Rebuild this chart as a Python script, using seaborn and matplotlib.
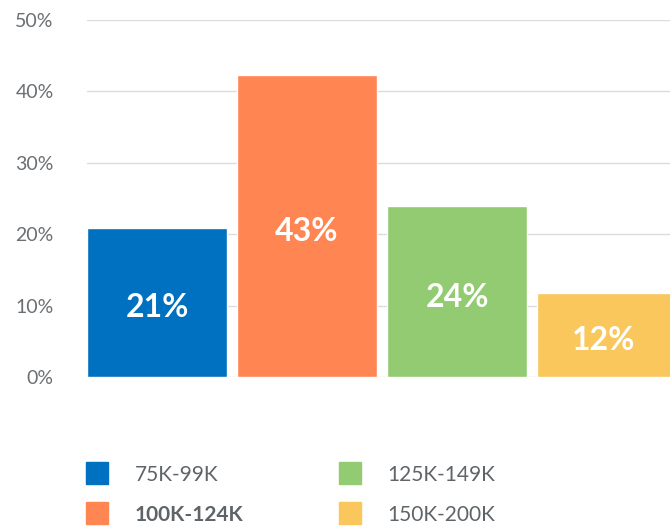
import numpy as np
import pandas as pd
import matplotlib
matplotlib.use("Agg")
import matplotlib.pyplot as plt
import seaborn as sns
from matplotlib.lines import Line2D

# datos
categorias = ["75K-99K", "100K-124K", "125K-149K", "150K-200K"]
valores = [20.9, 42.3, 23.9, 11.8]
etiquetas = ["21%", "43%", "24%", "12%"]
colores = ["#0070c0", "#ff8552", "#92cb72", "#f9c75b"]
yticks = [0, 10, 20, 30, 40, 50]

sns.set_style("white")
plt.rcParams['font.family'] = ['Lato', 'DejaVu Sans']

df = pd.DataFrame({'rango': categorias, 'pct': valores})

fig = plt.figure(figsize=(6.7, 5.29), dpi=100)
ax = fig.add_axes([87/670, (529-377)/529, (670-87)/670, (377-20)/529])

sns.barplot(data=df, x='rango', y='pct', hue='rango', palette=colores,
            width=0.933, legend=False, ax=ax, saturation=1, zorder=3)

for cont, lab in zip(ax.containers, etiquetas):
    ax.bar_label(cont, labels=[lab], label_type='center', color='white',
                 fontsize=23, fontweight='bold', padding=-4)

ax.set_ylim(0, 50)
ax.set_xlim(-0.467, 3.42)
ax.set_yticks(yticks)
ax.set_yticklabels([f"{t}%" for t in yticks], color='#6b6f73', fontsize=14)
ax.tick_params(axis='y', length=0, pad=24)
ax.set_xticks([])
ax.set_xlabel('')
ax.set_ylabel('')
ax.grid(axis='y', color='#dcdcdc', linewidth=1, zorder=0)
ax.set_axisbelow(True)
sns.despine(ax=ax, left=True, bottom=True)

handles = [Line2D([0], [0], marker='s', linestyle='', markersize=16,
                  markerfacecolor=c, markeredgecolor=c) for c in colores]
leg = fig.legend(handles, categorias, loc='upper left',
                 bbox_to_anchor=(66/670, 1 - 446/529), ncol=2, frameon=False,
                 fontsize=15, handletextpad=1.2, columnspacing=4.5,
                 labelspacing=0.95, handlelength=1.2)
for i, t in enumerate(leg.get_texts()):
    t.set_color('#5f6468')
    if i == 1:
        t.set_fontweight('bold')

fig.savefig('out.png', dpi=100)
